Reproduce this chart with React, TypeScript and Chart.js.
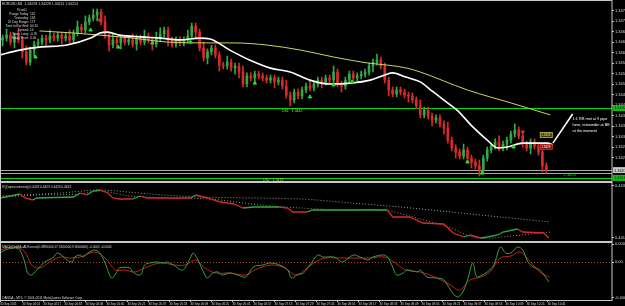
import React, { useEffect, useRef } from "react";
import { Chart, registerables } from "chart.js";
Chart.register(...registerables);
Chart.defaults.font.family = '"Liberation Sans", Arial, sans-serif';

// ---------- time axis (minutes after 03:44) ----------
const timeTicks = [0, 17, 33, 49, 65, 81, 97, 113, 129, 145, 161, 177, 193, 209, 225, 241, 257, 273, 289, 305, 321, 337, 353, 369, 385, 401, 417];
const timeLabels = ["30 Sep 2011", "30 Sep 04:01", "30 Sep 04:17", "30 Sep 04:33", "30 Sep 04:49", "30 Sep 05:05", "30 Sep 05:21", "30 Sep 05:37", "30 Sep 05:53", "30 Sep 06:09", "30 Sep 06:25", "30 Sep 06:41", "30 Sep 06:57", "30 Sep 07:13", "30 Sep 07:29", "30 Sep 07:45", "30 Sep 08:01", "30 Sep 08:17", "30 Sep 08:33", "30 Sep 08:49", "30 Sep 09:05", "30 Sep 09:21", "30 Sep 09:37", "30 Sep 09:53", "30 Sep 10:09", "30 Sep 10:25", "30 Sep 10:41"];
const TIME_MIN = 0;
const TIME_MAX = 466;

// ---------- price panel ----------
const BAR_MINUTES = 3;
const FIRST_BAR_MINUTE = 2;
const PIP = 0.0001;
const firstOpen = 1.34647;
const closes = [
  1.34653, 1.34663, 1.34640, 1.34660, 1.34647, 1.34607, 1.34573, 1.34613, 1.34633, 1.34640,
  1.34653, 1.34647, 1.34660, 1.34653, 1.34663, 1.34653, 1.34660, 1.34647, 1.34670, 1.34690,
  1.34680, 1.34707, 1.34720, 1.34730, 1.34740, 1.34707, 1.34663, 1.34630, 1.34647, 1.34637,
  1.34653, 1.34640, 1.34647, 1.34633, 1.34653, 1.34640, 1.34660, 1.34647, 1.34633, 1.34653,
  1.34667, 1.34680, 1.34647, 1.34633, 1.34647, 1.34637, 1.34647, 1.34660, 1.34693, 1.34673,
  1.34620, 1.34587, 1.34607, 1.34620, 1.34597, 1.34563, 1.34560, 1.34573, 1.34553, 1.34560,
  1.34540, 1.34500, 1.34527, 1.34520, 1.34533, 1.34527, 1.34520, 1.34513, 1.34520, 1.34507,
  1.34513, 1.34493, 1.34463, 1.34447, 1.34473, 1.34460, 1.34480, 1.34493, 1.34487, 1.34500,
  1.34513, 1.34507, 1.34520, 1.34513, 1.34540, 1.34500, 1.34493, 1.34513, 1.34533, 1.34520,
  1.34527, 1.34533, 1.34540, 1.34560, 1.34573, 1.34580, 1.34560, 1.34513, 1.34480, 1.34467,
  1.34480, 1.34473, 1.34463, 1.34460, 1.34447, 1.34427, 1.34397, 1.34413, 1.34393, 1.34380,
  1.34387, 1.34367, 1.34353, 1.34313, 1.34287, 1.34273, 1.34260, 1.34280, 1.34253, 1.34240,
  1.34227, 1.34213, 1.34253, 1.34280, 1.34293, 1.34307, 1.34287, 1.34300, 1.34313, 1.34333,
  1.34347, 1.34327, 1.34300, 1.34287, 1.34307, 1.34293, 1.34273, 1.34227, 1.34213,
];
// wick length above / below the body, in pips
const wickAbove = [
  1, 2, 1, 1, 2, 1, 2, 1, 1, 1, 1, 1, 2, 1, 1, 1, 1, 2, 1, 2,
  1, 2, 1, 2, 1, 1, 2, 1, 2, 1, 1, 1, 1, 2, 1, 1, 2, 1, 1, 2,
  2, 1, 1, 1, 1, 1, 1, 2, 1, 1, 1, 2, 1, 1, 1, 1, 1, 2, 1, 1,
  1, 2, 1, 1, 1, 1, 1, 1, 1, 1, 1, 1, 2, 1, 1, 1, 1, 1, 2, 1,
  1, 1, 1, 1, 2, 1, 1, 1, 1, 1, 1, 1, 1, 1, 1, 2, 1, 1, 1, 1,
  1, 1, 1, 1, 1, 1, 2, 1, 1, 1, 1, 1, 1, 2, 1, 1, 1, 2, 1, 1,
  1, 2, 1, 1, 1, 1, 2, 1, 1, 1, 2, 1, 1, 1, 1, 1, 1, 1, 1,
];
const wickBelow = [
  2, 1, 1, 2, 1, 2, 1, 1, 2, 1, 1, 2, 1, 1, 1, 2, 1, 1, 1, 1,
  1, 1, 1, 1, 2, 1, 1, 2, 1, 1, 2, 1, 1, 1, 2, 1, 1, 1, 2, 1,
  1, 1, 2, 1, 1, 1, 1, 1, 1, 2, 1, 1, 2, 1, 1, 2, 1, 1, 1, 2,
  2, 1, 1, 1, 2, 1, 1, 1, 1, 2, 1, 1, 1, 2, 1, 1, 1, 1, 1, 1,
  1, 2, 1, 1, 1, 1, 2, 1, 1, 1, 1, 1, 1, 1, 2, 1, 1, 1, 2, 1,
  1, 1, 1, 2, 1, 1, 1, 1, 1, 2, 1, 1, 2, 1, 1, 2, 1, 1, 1, 2,
  1, 2, 1, 1, 1, 1, 1, 1, 2, 1, 1, 1, 1, 1, 2, 1, 1, 2, 1,
];

const whiteMaT = [0, 15, 30, 51, 69, 76, 82, 91, 107, 122, 137, 152, 160, 175, 190, 206, 221, 236, 251, 267, 282, 293, 299, 309, 320, 328, 339, 348, 360, 371, 379, 386, 398, 406, 417, 421];
const whiteMaV = [1.34597, 1.34613, 1.34623, 1.34630, 1.34653, 1.34670, 1.34673, 1.34663, 1.34657, 1.34653, 1.34647, 1.34653, 1.34650, 1.34613, 1.34580, 1.34553, 1.34540, 1.34513, 1.34500, 1.34503, 1.34513, 1.34530, 1.34537, 1.34523, 1.34507, 1.34480, 1.34443, 1.34413, 1.34357, 1.34313, 1.34287, 1.34290, 1.34303, 1.34303, 1.34303, 1.34297];

const yellowMaT = [30, 56, 76, 101, 127, 160, 178, 203, 229, 254, 280, 295, 310, 320, 356, 389, 419];
const yellowMaV = [1.34677, 1.34670, 1.34663, 1.34653, 1.34640, 1.34637, 1.34637, 1.34630, 1.34613, 1.34590, 1.34570, 1.34563, 1.34553, 1.34540, 1.34480, 1.34437, 1.34397];

const upArrowT = [27, 69, 90, 116, 145, 194, 236, 254, 268, 356, 367, 391];
const upArrowP = [1.34590, 1.34680, 1.34623, 1.34637, 1.34640, 1.34503, 1.34457, 1.34497, 1.34507, 1.34240, 1.34203, 1.34290];
const downArrowT = [76, 398];
const downArrowP = [1.34713, 1.34340];

const levelS1 = 1.3442;
const levelS2 = 1.34187;
const bidPrice = 1.34213;
const askPrice = 1.34205;
const tradeUpper = 1.3433;
const tradeLower = 1.3429;
const PRICE_MIN = 1.341767;
const PRICE_MAX = 1.347767;
const priceTicks = [1.34745, 1.3471, 1.34675, 1.3464, 1.34605, 1.3457, 1.34535, 1.345, 1.34465, 1.3443, 1.34395, 1.3436, 1.34325, 1.3429, 1.34255];

const noteLines = ["1:1 RR met at 9 pips", "here, remainder at BE", "at the moment"];
const noteT = 436;
const noteP = 1.34383;
const arrowLineT = [421, 436];
const arrowLineP = [1.34303, 1.344];

const infoLabels = ["Range Today:", "Yesterday:", "20 Day Range:", "Time to Bar End:", "Spread:", "Swap Long:", "Swap Short:"];
const infoValues = ["142", "163", "177", "00:20", "14", "-0.35", "0.06"];

// ---------- VQ panel ----------
const vqT = [0, 8, 15, 19, 25, 28, 56, 61, 66, 71, 76, 82, 86, 91, 101, 107, 112, 120, 127, 132, 145, 149, 152, 158, 168, 178, 185, 193, 213, 219, 223, 234, 238, 254, 280, 295, 299, 312, 322, 338, 345, 353, 358, 366, 371, 379, 383, 394, 398, 414, 418];
const vqV = [0.4429, 0.44298, 0.44306, 0.4429, 0.44282, 0.4429, 0.44294, 0.4431, 0.44302, 0.44318, 0.44322, 0.4431, 0.4429, 0.44286, 0.44286, 0.44298, 0.4429, 0.4429, 0.4429, 0.4429, 0.4429, 0.44302, 0.44298, 0.4429, 0.44274, 0.44266, 0.4425, 0.44254, 0.44254, 0.4425, 0.44234, 0.44234, 0.44242, 0.44242, 0.44242, 0.44242, 0.44214, 0.44214, 0.4419, 0.44186, 0.4415, 0.44134, 0.44142, 0.4413, 0.44134, 0.44142, 0.44154, 0.44166, 0.44154, 0.4415, 0.4413];
const vqSlowT = [0, 46, 76, 114, 152, 229, 267, 305, 343, 381, 419];
const vqSlowV = [0.44298, 0.4431, 0.44322, 0.44306, 0.44294, 0.44286, 0.4427, 0.44254, 0.44234, 0.44214, 0.44194];
const vqFastT = [0, 30, 61, 76, 99, 130, 160, 198, 229, 259, 292, 320, 343, 363, 389, 419];
const vqFastV = [0.44294, 0.44302, 0.44306, 0.44318, 0.44298, 0.4429, 0.44286, 0.44262, 0.4425, 0.44242, 0.44242, 0.44206, 0.4417, 0.4413, 0.44138, 0.44154];
const VQ_MIN = 0.44118;
const VQ_MAX = 0.4435;
const vqTicks = [0.4434, 0.4413];
const vqTickLabels = ["0.4434", "0.4413"];

// ---------- MACD panel ----------
const macdT = [0, 4, 11, 15, 19, 21, 24, 28, 34, 40, 44, 51, 55, 57, 61, 63, 67, 72, 76, 80, 85, 89, 91, 99, 101, 107, 110, 114, 120, 124, 127, 132, 139, 145, 147, 150, 156, 158, 162, 166, 169, 175, 181, 187, 193, 200, 206, 213, 219, 222, 226, 231, 236, 242, 246, 254, 258, 261, 269, 274, 280, 284, 292, 295, 299, 302, 307, 310, 318, 320, 325, 333, 338, 343, 348, 352, 356, 360, 363, 367, 371, 376, 381, 385, 389, 394, 398, 402, 406, 411, 418];
const macdV = [0.000126, 0.000168, 0.000196, 0.000168, -0.000014, -0.000154, -0.000182, -0.000112, 0, 0.000056, 0.000126, 0.000028, 0, 0.00007, 0.000098, 0.00007, 0.000126, 0.000168, 0.000126, -0.000014, -0.000224, -0.00014, -0.000084, -0.000084, -0.00014, -0.000182, -0.000042, -0.000014, 0, -0.000014, 0, -0.000042, -0.000112, 0.000056, 0.000126, 0.000056, -0.000182, -0.000224, -0.000154, -0.00014, -0.000182, -0.000154, -0.000182, -0.00021, -0.00007, -0.000042, -0.000014, -0.000042, -0.000112, -0.000224, -0.000182, -0.000154, -0.000042, 0.000098, 0.00007, 0.00007, 0.000028, 0, 0.000098, 0.00007, 0.000028, 0.00007, 0.000098, 0.00007, -0.00007, -0.000182, -0.000154, -0.000112, -0.00014, -0.000112, -0.00021, -0.000224, -0.000252, -0.000392, -0.00049, -0.000434, -0.000252, -0.000014, -0.00021, -0.000182, -0.00014, -0.000042, 0.00021, 0.000126, 0.000126, 0.00021, 0.000168, 0, -0.00007, -0.000112, -0.00028];
const signalT = [0, 11, 19, 24, 30, 38, 46, 53, 61, 72, 80, 88, 95, 103, 110, 122, 133, 141, 149, 156, 164, 175, 187, 194, 206, 217, 225, 232, 240, 248, 259, 270, 282, 293, 301, 309, 320, 331, 343, 350, 358, 366, 373, 381, 389, 396, 404, 411, 418];
const signalV = [0.000168, 0.00021, 0.00014, -0.000042, -0.000084, 0, 0.00007, 0.000056, 0.00007, 0.00014, 0.000056, -0.000112, -0.000112, -0.00014, -0.000084, -0.000014, -0.000042, -0.000042, 0.000028, -0.000084, -0.000154, -0.000154, -0.000182, -0.000112, -0.000042, -0.000084, -0.000182, -0.000112, 0, 0.000056, 0.000056, 0.000056, 0.000056, 0.00007, -0.000014, -0.000112, -0.00014, -0.00021, -0.000322, -0.000392, -0.000252, -0.00021, -0.00014, 0.000056, 0.000084, 0.00014, 0, -0.00014, -0.00021];
const MACD_MIN = -0.000532;
const MACD_MAX = 0.000266;
const macdTicks = [0.00025, 0, -0.0005];
const macdTickLabels = ["0.0003", "0.00", "-0.0005"];

// ---------- styles ----------
const AXIS = "#c8c8c8";
const TEXT = "#d8d8d8";
const UP = "#34a843";
const DOWN = "#d82a2a";
const LEVEL_GREEN = "#00dd00";
const FONT = '"Liberation Sans", Arial, sans-serif';
const f = (s: number, bold = false) => `${bold ? "bold " : ""}${s}px ${FONT}`;

const pts = (ts: number[], vs: number[]) => ts.map((t, i) => ({ x: t, y: vs[i] }));

function xScale(show: boolean) {
  const s: any = {
    type: "linear",
    min: TIME_MIN,
    max: TIME_MAX,
    offset: false,
    display: show,
    afterBuildTicks: (sc: any) => {
      sc.ticks = timeTicks.map((v) => ({ value: v }));
    },
    grid: { display: true, drawOnChartArea: false, drawTicks: true, tickLength: 2, color: AXIS },
    border: { display: false },
    ticks: {
      autoSkip: false,
      maxRotation: 0,
      minRotation: 0,
      align: "start",
      padding: 0,
      color: TEXT,
      font: { size: 3 },
      callback: (_v: any, i: number) => timeLabels[i],
    },
  };
  if (show) s.afterFit = (sc: any) => { sc.height = 6; };
  return s;
}

function yScale(min: number, max: number, ticks: number[]) {
  return {
    position: "right",
    min,
    max,
    grace: 0,
    afterFit: (s: any) => {
      s.width = 13;
    },
    afterBuildTicks: (s: any) => {
      s.ticks = ticks.map((v) => ({ value: v }));
    },
    grid: { display: true, drawOnChartArea: false, drawTicks: true, tickLength: 2, color: AXIS },
    border: { display: false },
    ticks: { display: false },
  };
}

function yLabels(chart: any, ticks: number[], labels: string[]) {
  const { ctx, chartArea: a, scales } = chart;
  ctx.save();
  ctx.fillStyle = TEXT;
  ctx.font = f(4);
  ctx.textAlign = "left";
  ctx.textBaseline = "middle";
  ticks.forEach((v, i) => ctx.fillText(labels[i], a.right + 3, scales.y.getPixelForValue(v)));
  ctx.restore();
}

function frame(chart: any) {
  const { ctx, chartArea: a } = chart;
  ctx.save();
  ctx.strokeStyle = AXIS;
  ctx.lineWidth = 1;
  ctx.strokeRect(Math.round(a.left) + 0.5, Math.round(a.top) - 0.5, Math.round(a.right - a.left) - 0.5, Math.round(a.bottom - a.top) + 1);
  ctx.restore();
}

const blackBg = {
  id: "blackBg",
  beforeDraw(chart: any) {
    const { ctx, width, height } = chart;
    ctx.save();
    ctx.fillStyle = "#000";
    ctx.fillRect(0, 0, width, height);
    ctx.restore();
  },
};

const baseOptions = (scales: any, padTop: number, padBottom: number) => ({
  responsive: false,
  maintainAspectRatio: false,
  animation: false,
  events: [],
  layout: { padding: { top: padTop, bottom: padBottom, left: 0, right: 0 }, autoPadding: false },
  plugins: { legend: { display: false }, tooltip: { enabled: false } },
  elements: { point: { radius: 0 } },
  scales,
});

function makeMain(canvas: HTMLCanvasElement) {
  const opens = closes.map((c, i) => (i === 0 ? firstOpen : closes[i - 1]));
  const barTime = (i: number) => FIRST_BAR_MINUTE + i * BAR_MINUTES;
  const candles = closes.map((c, i) => ({ x: barTime(i), y: [opens[i], c] }));
  const wicks = closes.map((c, i) => ({
    x: barTime(i),
    y: [Math.min(opens[i], c) - wickBelow[i] * PIP, Math.max(opens[i], c) + wickAbove[i] * PIP],
  }));
  const dirColor = (c: any) => (c.dataIndex !== undefined && closes[c.dataIndex] >= opens[c.dataIndex] ? UP : DOWN);
  const decor = {
    id: "mainDecor",
    beforeDatasetsDraw(chart: any) {
      const { ctx, chartArea: a, scales } = chart;
      const y = scales.y;
      ctx.save();
      const hline = (p: number, color: string) => {
        const py = Math.round(y.getPixelForValue(p)) + 0.5;
        ctx.strokeStyle = color;
        ctx.lineWidth = 1;
        ctx.beginPath();
        ctx.moveTo(a.left, py);
        ctx.lineTo(a.right, py);
        ctx.stroke();
      };
      hline(levelS1, LEVEL_GREEN);
      hline(levelS2, LEVEL_GREEN);
      hline(bidPrice, "#a8a8a8");
      hline(askPrice, "#a8a8a8");
      ctx.restore();
    },
    afterDraw(chart: any) {
      const { ctx, scales } = chart;
      const x = scales.x;
      const y = scales.y;
      frame(chart);
      yLabels(chart, priceTicks, priceTicks.map((v) => v.toFixed(5)));
      ctx.save();
      ctx.textBaseline = "middle";
      // header
      ctx.fillStyle = TEXT;
      ctx.font = f(3.5);
      ctx.textAlign = "left";
      ctx.fillText("EURUSD,M1  1.34228 1.34228 1.34211 1.34214", 2, 4);
      // info block
      ctx.font = f(3.2);
      ctx.textAlign = "center";
      ctx.fillText("PivotD", 22, 10);
      infoLabels.forEach((l, i) => {
        ctx.textAlign = "right";
        ctx.fillText(l, 29, 14 + i * 4);
        ctx.textAlign = "left";
        ctx.fillText(infoValues[i], 30, 14 + i * 4);
      });
      // level captions
      ctx.textAlign = "left";
      ctx.fillStyle = "#b8d040";
      ctx.font = f(3.5);
      ctx.fillText("DS1   1.3442", 282, y.getPixelForValue(levelS1) + 3.5);
      ctx.fillText("DS2   1.3418", 263, y.getPixelForValue(levelS2) + 2.5);
      ctx.fillStyle = LEVEL_GREEN;
      ctx.font = f(4);
      ctx.fillText("*1.3424", 562, y.getPixelForValue(levelS2) - 3.5);
      // annotation
      ctx.fillStyle = "#ffffff";
      ctx.font = f(3.8);
      noteLines.forEach((l, i) => ctx.fillText(l, x.getPixelForValue(noteT), y.getPixelForValue(noteP) + i * 6));
      ctx.strokeStyle = "#ffffff";
      ctx.lineWidth = 1.6;
      ctx.beginPath();
      ctx.moveTo(x.getPixelForValue(arrowLineT[0]), y.getPixelForValue(arrowLineP[0]));
      ctx.lineTo(x.getPixelForValue(arrowLineT[1]), y.getPixelForValue(arrowLineP[1]));
      ctx.stroke();
      // trade labels
      const tag = (p: number, fill: string, stroke: string, txt: string) => {
        const py = y.getPixelForValue(p);
        const px = x.getPixelForValue(411);
        ctx.fillStyle = fill;
        ctx.fillRect(px, py - 2.5, 13, 5);
        ctx.strokeStyle = stroke;
        ctx.lineWidth = 0.8;
        ctx.strokeRect(px + 0.5, py - 2.5, 12, 5);
        ctx.fillStyle = txt;
        ctx.font = f(3);
        ctx.textAlign = "left";
        ctx.fillText(p.toFixed(4), px + 1.5, py + 0.3);
      };
      tag(tradeUpper, "#3a3a10", "#c8c040", "#e8e070");
      tag(tradeLower, "#801010", "#d03030", "#ffffff");
      // right-axis price boxes
      const box = (p: number, fill: string, txt: string) => {
        const py = y.getPixelForValue(p);
        ctx.fillStyle = fill;
        ctx.fillRect(613, py - 3, 12, 6);
        ctx.fillStyle = txt;
        ctx.font = f(4);
        ctx.textAlign = "left";
        ctx.fillText(p.toFixed(5), 614, py + 0.3);
      };
      box(levelS1, "#10c010", "#002000");
      box(bidPrice, "#c8c8c8", "#000000");
      box(levelS2, "#10c010", "#002000");
      ctx.restore();
    },
  };
  return new Chart(canvas, {
    type: "line",
    data: {
      datasets: [
        {
          type: "bar",
          data: wicks as any,
          barThickness: 1,
          grouped: false,
          backgroundColor: dirColor,
          borderWidth: 0,
          order: 4,
        } as any,
        {
          type: "bar",
          data: candles as any,
          barThickness: 2,
          grouped: false,
          minBarLength: 1,
          backgroundColor: dirColor,
          borderWidth: 0,
          order: 3,
        } as any,
        { data: pts(yellowMaT, yellowMaV), borderColor: "#d2d266", borderWidth: 1, tension: 0.4, cubicInterpolationMode: "monotone", order: 2 },
        { data: pts(whiteMaT, whiteMaV), borderColor: "#ffffff", borderWidth: 1.6, tension: 0.4, cubicInterpolationMode: "monotone", order: 1 },
        { type: "scatter", data: pts(upArrowT, upArrowP), pointStyle: "triangle", pointRadius: 2, backgroundColor: "#22e022", borderColor: "#22e022", showLine: false, order: 0 } as any,
        { type: "scatter", data: pts(downArrowT, downArrowP), pointStyle: "triangle", rotation: 180, pointRadius: 2, backgroundColor: DOWN, borderColor: DOWN, showLine: false, order: 0 } as any,
      ],
    },
    options: baseOptions({ x: xScale(false), y: yScale(PRICE_MIN, PRICE_MAX, priceTicks) }, 1, 1) as any,
    plugins: [blackBg, decor],
  });
}

function makeInd1(canvas: HTMLCanvasElement) {
  const colors: string[] = [];
  let last = UP;
  for (let i = 0; i < vqV.length - 1; i++) {
    if (vqV[i + 1] > vqV[i]) last = UP;
    else if (vqV[i + 1] < vqV[i]) last = DOWN;
    colors.push(last);
  }
  const decor = {
    id: "vqDecor",
    afterDraw(chart: any) {
      frame(chart);
      yLabels(chart, vqTicks, vqTickLabels);
      const { ctx } = chart;
      ctx.save();
      ctx.fillStyle = TEXT;
      ctx.font = f(3.2);
      ctx.textBaseline = "middle";
      ctx.fillText("VQ(vqma winnerq) 0.4423 0.4423 0.4423 0.4423", 2, 5);
      ctx.restore();
    },
  };
  return new Chart(canvas, {
    type: "line",
    data: {
      datasets: [
        { data: pts(vqSlowT, vqSlowV), borderColor: "#9a9a9a", borderWidth: 1, borderDash: [1, 2], tension: 0.3, order: 2 },
        { data: pts(vqFastT, vqFastV), borderColor: "#8a8a8a", borderWidth: 1, borderDash: [1, 2], tension: 0.3, order: 2 },
        { data: pts(vqT, vqV), borderColor: UP, borderWidth: 1.3, tension: 0, segment: { borderColor: (c: any) => colors[c.p0DataIndex] }, order: 1 },
      ],
    },
    options: baseOptions({ x: xScale(false), y: yScale(VQ_MIN, VQ_MAX, vqTicks) }, 1, 1) as any,
    plugins: [blackBg, decor],
  });
}

function makeInd2(canvas: HTMLCanvasElement) {
  const decor = {
    id: "macdDecor",
    beforeDatasetsDraw(chart: any) {
      const { ctx, chartArea: a, scales } = chart;
      const py = Math.round(scales.y.getPixelForValue(0)) + 0.5;
      ctx.save();
      ctx.strokeStyle = "#a0522d";
      ctx.setLineDash([1, 2]);
      ctx.lineWidth = 1;
      ctx.beginPath();
      ctx.moveTo(a.left, py);
      ctx.lineTo(a.right, py);
      ctx.stroke();
      ctx.restore();
    },
    afterDraw(chart: any) {
      frame(chart);
      yLabels(chart, macdTicks, macdTickLabels);
      const { ctx, chartArea: a } = chart;
      ctx.save();
      ctx.fillStyle = TEXT;
      ctx.font = f(3.2);
      ctx.textBaseline = "middle";
      ctx.fillText("MACD(OsMA+ADXcross(0.3896000,17.3100000,9.3000000) -0.0002 -0.0004", 2, a.top + 4);
      ctx.fillText("OANDA - MT4, \u00a9 2001-2011 MetaQuotes Software Corp.", 2, a.bottom - 2);
      ctx.restore();
    },
  };
  return new Chart(canvas, {
    type: "line",
    data: {
      datasets: [
        { data: pts(signalT, signalV), borderColor: "#c42020", borderWidth: 1, tension: 0.35, order: 2 },
        { data: pts(macdT, macdV), borderColor: "#3aa03a", borderWidth: 1, tension: 0.35, order: 1 },
      ],
    },
    options: baseOptions({ x: xScale(true), y: yScale(MACD_MIN, MACD_MAX, macdTicks) }, 1, 0) as any,
    plugins: [blackBg, decor],
  });
}

export default function App() {
  const mainRef = useRef<HTMLCanvasElement>(null);
  const ind1Ref = useRef<HTMLCanvasElement>(null);
  const ind2Ref = useRef<HTMLCanvasElement>(null);
  useEffect(() => {
    const charts = [makeMain(mainRef.current!), makeInd1(ind1Ref.current!), makeInd2(ind2Ref.current!)];
    return () => charts.forEach((c) => c.destroy());
  }, []);
  const cv = (top: number, h: number) => ({ position: "absolute" as const, left: 0, top, width: 625, height: h, display: "block" });
  return (
    <div style={{ position: "fixed", left: 0, top: 0, width: 625, height: 306, background: "#000", overflow: "hidden" }}>
      <canvas ref={mainRef} width={625} height={182} style={cv(0, 182)} />
      <canvas ref={ind1Ref} width={625} height={60} style={cv(182, 60)} />
      <canvas ref={ind2Ref} width={625} height={64} style={cv(242, 64)} />
    </div>
  );
}
